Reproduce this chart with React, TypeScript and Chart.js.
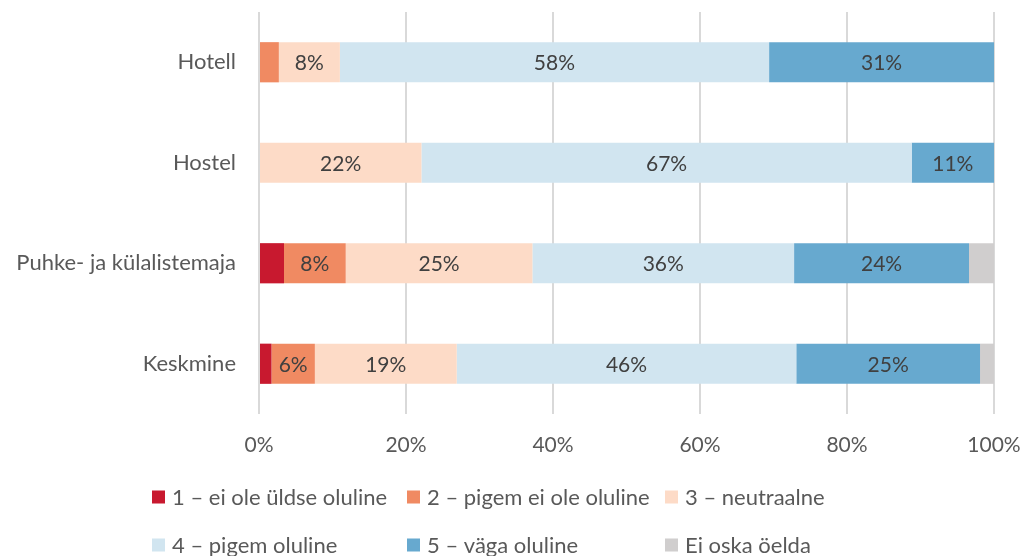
import React, { useEffect, useRef } from "react";
import { Chart, registerables } from "chart.js";

Chart.register(...registerables);

const categories = ["Hotell", "Hostel", "Puhke- ja külalistemaja", "Keskmine"];
const seriesNames = [
  "1 – ei ole üldse oluline",
  "2 – pigem ei ole oluline",
  "3 – neutraalne",
  "4 – pigem oluline",
  "5 – väga oluline",
  "Ei oska öelda",
];
const seriesColors = ["#C8192F", "#F08A62", "#FDDBC7", "#D1E5F0", "#67A9CF", "#D0CECE"];
const s1 = [0, 0, 3.4, 1.7];
const s2 = [2.7, 0, 8.4, 5.9];
const s3 = [8.3, 22.1, 25.4, 19.3];
const s4 = [58.4, 66.7, 35.6, 46.2];
const s5 = [30.6, 11.2, 23.8, 25.0];
const s6 = [0, 0, 3.4, 1.9];
const seriesValues = [s1, s2, s3, s4, s5, s6];
const xTicks = [0, 20, 40, 60, 80, 100];

const FONT = "Lato, 'Open Sans', sans-serif";
const TEXT = "#595959";

const labelPlugin = {
  id: "segLabels",
  afterDatasetsDraw(chart: any) {
    const ctx = chart.ctx;
    ctx.save();
    ctx.font = `21px ${FONT}`;
    ctx.fillStyle = "#404040";
    ctx.textAlign = "center";
    ctx.textBaseline = "middle";
    chart.data.datasets.forEach((ds: any, di: number) => {
      const meta = chart.getDatasetMeta(di);
      meta.data.forEach((el: any, i: number) => {
        const v = ds.data[i];
        if (v < 5) return;
        const cx = (el.x + el.base) / 2;
        ctx.fillText(Math.round(v) + "%", cx, el.y + 1);
      });
    });
    ctx.restore();
  },
};

const legendPlugin = {
  id: "gridLegend",
  afterDraw(chart: any) {
    const ctx = chart.ctx;
    ctx.save();
    ctx.font = `22px ${FONT}`;
    ctx.textBaseline = "middle";
    ctx.textAlign = "left";
    const cols = [152, 407, 665];
    const rows = [497, 545];
    chart.data.datasets.forEach((ds: any, i: number) => {
      const x = cols[i % 3];
      const y = rows[Math.floor(i / 3)];
      ctx.fillStyle = ds.backgroundColor;
      ctx.fillRect(x, y - 6.5, 13, 13);
      ctx.fillStyle = TEXT;
      ctx.fillText(ds.label, x + 20, y + 1);
    });
    ctx.restore();
  },
};

export default function App() {
  const ref = useRef<HTMLCanvasElement>(null);
  useEffect(() => {
    if (!ref.current) return;
    const chart = new Chart(ref.current, {
      type: "bar",
      data: {
        labels: categories,
        datasets: seriesNames.map((n, i) => ({
          label: n,
          data: seriesValues[i],
          backgroundColor: seriesColors[i],
          borderWidth: 0,
          barPercentage: 0.8,
          categoryPercentage: 0.5,
        })),
      },
      options: {
        indexAxis: "y",
        animation: false,
        responsive: true,
        maintainAspectRatio: false,
        layout: { padding: { top: 12, right: 29, left: 0, bottom: 102 } },
        plugins: {
          legend: { display: false },
          tooltip: { enabled: false },
        },
        scales: {
          x: {
            stacked: true,
            min: 0,
            max: 100,
            afterBuildTicks: (s: any) => {
              s.ticks = xTicks.map((v) => ({ value: v }));
            },
            afterFit: (s: any) => {
              s.height = 40;
              s.paddingLeft = 0;
              s.paddingRight = 0;
            },
            grid: { color: "#D9D9D9", lineWidth: 2, drawTicks: false },
            border: { display: false },
            ticks: {
              padding: 19,
              color: TEXT,
              font: { family: FONT, size: 21 },
              callback: (v: any) => v + "%",
            },
          },
          y: {
            stacked: true,
            afterFit: (s: any) => {
              s.width = 259;
              s.paddingTop = 0;
              s.paddingBottom = 0;
            },
            grid: { display: false, drawTicks: false },
            border: { display: false },
            ticks: {
              padding: 23,
              color: TEXT,
              font: { family: FONT, size: 22 },
            },
          },
        },
      },
      plugins: [labelPlugin, legendPlugin],
    });
    return () => chart.destroy();
  }, []);
  return (
    <div style={{ position: "fixed", left: 0, top: 0, width: 1023, height: 556, background: "#fff" }}>
      <canvas ref={ref} />
    </div>
  );
}
